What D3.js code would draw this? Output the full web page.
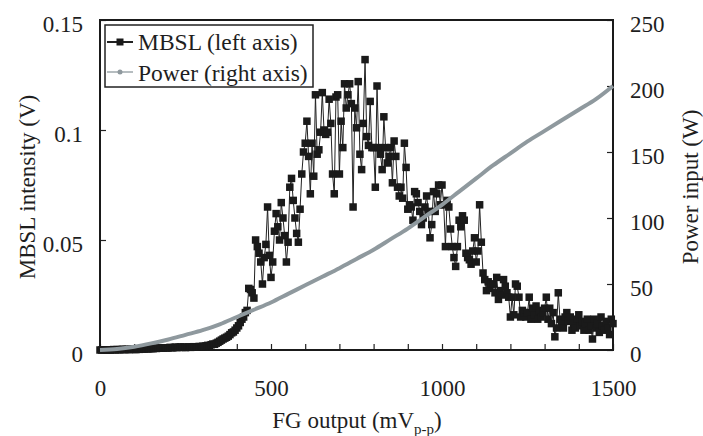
<!DOCTYPE html>
<html>
<head>
<meta charset="utf-8">
<script src="https://cdn.jsdelivr.net/npm/d3@7"></script>
<style>
    body { margin: 0; background: #fff; }
    text { font-family: "Liberation Serif", "Times New Roman", serif; fill: #1e1e1e; }
</style>
</head>
<body>
<svg id="chart" width="703" height="436"></svg>
<script>

// MBSL trace, one reading every 5 mV from 0 to 1500 mV (V)
const mbslStep = 5;
const mbslValues = [
    0.0000, 0.0000, 0.0000, 0.0001, 0.0000, 0.0001, 0.0000, 0.0001, 0.0002, 0.0001,
    0.0002, 0.0001, 0.0002, 0.0003, 0.0002, 0.0002, 0.0003, 0.0002, 0.0003, 0.0003,
    0.0003, 0.0002, 0.0004, 0.0003, 0.0005, 0.0004, 0.0005, 0.0006, 0.0005, 0.0006,
    0.0007, 0.0006, 0.0008, 0.0007, 0.0008, 0.0009, 0.0008, 0.0009, 0.0010, 0.0009,
    0.0010, 0.0012, 0.0010, 0.0011, 0.0013, 0.0011, 0.0012, 0.0014, 0.0012, 0.0013,
    0.0011, 0.0013, 0.0014, 0.0012, 0.0013, 0.0015, 0.0013, 0.0014, 0.0016, 0.0015,
    0.0017, 0.0016, 0.0019, 0.0021, 0.0020, 0.0024, 0.0027, 0.0026, 0.0031, 0.0035,
    0.0040, 0.0045, 0.0050, 0.0054, 0.0058, 0.0063, 0.0070, 0.0078, 0.0082, 0.0090,
    0.0100, 0.0110, 0.0125, 0.0140, 0.0150, 0.0170, 0.0180, 0.0280, 0.0275, 0.0260,
    0.0236, 0.0500, 0.0470, 0.0440, 0.0400, 0.0300, 0.0420, 0.0480, 0.0650, 0.0430,
    0.0330, 0.0400, 0.0540, 0.0620, 0.0560, 0.0500, 0.0670, 0.0600, 0.0520, 0.0400,
    0.0490, 0.0740, 0.0780, 0.0680, 0.0600, 0.0530, 0.0490, 0.0640, 0.0800, 0.0900,
    0.0940, 0.1040, 0.0880, 0.0710, 0.0940, 0.0790, 0.1160, 0.0890, 0.0910, 0.0990,
    0.1170, 0.1000, 0.0980, 0.0990, 0.1140, 0.1030, 0.0800, 0.0710, 0.1150, 0.1160,
    0.0800, 0.1040, 0.0920, 0.1210, 0.1100, 0.1160, 0.1210, 0.1120, 0.0650, 0.1100,
    0.1010, 0.1220, 0.0890, 0.0820, 0.1030, 0.1320, 0.0970, 0.0930, 0.1130, 0.0920,
    0.0920, 0.0740, 0.1200, 0.0920, 0.0890, 0.0820, 0.1060, 0.0920, 0.0850, 0.0880,
    0.0920, 0.0760, 0.0950, 0.0880, 0.0740, 0.0700, 0.0740, 0.0690, 0.0940, 0.0830,
    0.0640, 0.0660, 0.0650, 0.0590, 0.0720, 0.0710, 0.0670, 0.0630, 0.0570, 0.0600,
    0.0650, 0.0700, 0.0630, 0.0510, 0.0570, 0.0720, 0.0630, 0.0710, 0.0750, 0.0660,
    0.0750, 0.0660, 0.0470, 0.0680, 0.0650, 0.0550, 0.0470, 0.0420, 0.0380, 0.0470,
    0.0590, 0.0560, 0.0610, 0.0590, 0.0440, 0.0420, 0.0410, 0.0390, 0.0450, 0.0510,
    0.0400, 0.0450, 0.0660, 0.0490, 0.0350, 0.0320, 0.0270, 0.0310, 0.0280, 0.0300,
    0.0300, 0.0260, 0.0330, 0.0230, 0.0270, 0.0250, 0.0320, 0.0290, 0.0260, 0.0240,
    0.0150, 0.0240, 0.0160, 0.0300, 0.0290, 0.0240, 0.0150, 0.0180, 0.0170, 0.0150,
    0.0170, 0.0240, 0.0140, 0.0190, 0.0160, 0.0200, 0.0140, 0.0180, 0.0150, 0.0170,
    0.0190, 0.0240, 0.0140, 0.0190, 0.0120, 0.0170, 0.0060, 0.0100, 0.0260, 0.0140,
    0.0120, 0.0100, 0.0150, 0.0170, 0.0130, 0.0150, 0.0090, 0.0120, 0.0100, 0.0140,
    0.0160, 0.0110, 0.0130, 0.0090, 0.0120, 0.0140, 0.0090, 0.0110, 0.0050, 0.0140,
    0.0100, 0.0120, 0.0080, 0.0150, 0.0110, 0.0090, 0.0130, 0.0100, 0.0070, 0.0140,
    0.0120
];

// power input curve (W)
const powerX = [0, 50, 100, 150, 200, 250, 300, 350, 400, 450, 500, 550, 600, 650, 700, 750,
    800, 850, 900, 950, 1000, 1050, 1100, 1150, 1200, 1250, 1300, 1350, 1400, 1450, 1500];
const powerW = [0, 0.8, 2.5, 5, 8, 11.5, 15, 19.5, 25, 30.5, 36, 42.5, 49, 55.5, 62, 69,
    76, 84, 92, 101, 110, 120, 130, 140, 149, 158, 166, 174, 182, 190, 200];

// axes
const xTicks = [0, 100, 200, 300, 400, 500, 600, 700, 800, 900, 1000, 1100, 1200, 1300, 1400, 1500];
const xLabels = [0, 500, 1000, 1500];
const leftTicks = [0, 0.05, 0.1, 0.15];
const rightTicks = [0, 50, 100, 150, 200, 250];

const legendItems = ["MBSL (left axis)", "Power (right axis)"];


class DualAxisVis {

    constructor(parentElement){
        this.parentElement = parentElement;

        this.initVis()
    }

    initVis(){
        let vis = this;

        vis.margin = {top: 20, right: 90, bottom: 86, left: 100};
        vis.width = 703 - vis.margin.left - vis.margin.right;
        vis.height = 436 - vis.margin.top - vis.margin.bottom;

        vis.svg = d3.select("#" + vis.parentElement);
        vis.g = vis.svg.append("g")
            .attr("transform", `translate(${vis.margin.left},${vis.margin.top})`);

        vis.x = d3.scaleLinear().domain([0, 1500]).range([0, vis.width]);
        vis.yLeft = d3.scaleLinear().domain([0, 0.15]).range([vis.height, 0]);
        vis.yRight = d3.scaleLinear().domain([0, 250]).range([vis.height, 0]);

        vis.wrangleData();
    }

    wrangleData(){
        let vis = this

        vis.mbsl = mbslValues.map((v, i) => ({x: i * mbslStep, y: v}));
        vis.power = powerX.map((x, i) => ({x: x, y: powerW[i]}));

        vis.updateVis()
    }

    updateVis(){
        let vis = this;

        // axes, ticks pointing inward
        let xAxis = d3.axisBottom(vis.x)
            .tickValues(xTicks)
            .tickSize(-6)
            .tickPadding(30)
            .tickFormat(d => xLabels.includes(d) ? d : "");
        let leftAxis = d3.axisLeft(vis.yLeft)
            .tickValues(leftTicks)
            .tickSize(-6)
            .tickPadding(17)
            .tickFormat(d => String(d));
        let rightAxis = d3.axisRight(vis.yRight)
            .tickValues(rightTicks)
            .tickSize(-6)
            .tickPadding(17)
            .tickFormat(d => String(d));

        let styleAxis = sel => {
            sel.select(".domain").remove();
            sel.selectAll(".tick line").attr("stroke", "#222").attr("stroke-width", 1.2);
            sel.selectAll("text")
                .style("font-family", '"Liberation Serif", serif')
                .style("font-size", "23px")
                .attr("fill", "#1e1e1e");
        };

        vis.g.append("g")
            .attr("transform", `translate(0,${vis.height})`)
            .call(xAxis)
            .call(styleAxis);
        vis.g.append("g")
            .call(leftAxis)
            .call(styleAxis)
            .selectAll("text").attr("dy", "0.5em");
        vis.g.append("g")
            .attr("transform", `translate(${vis.width},0)`)
            .call(rightAxis)
            .call(styleAxis)
            .selectAll("text").attr("dy", "0.5em");

        // plot frame
        vis.g.append("rect")
            .attr("width", vis.width)
            .attr("height", vis.height)
            .attr("fill", "none")
            .attr("stroke", "#1a1a1a")
            .attr("stroke-width", 2);

        // MBSL series
        let mbslLine = d3.line()
            .x(d => vis.x(d.x))
            .y(d => vis.yLeft(d.y));

        vis.g.append("path")
            .datum(vis.mbsl)
            .attr("d", mbslLine)
            .attr("fill", "none")
            .attr("stroke", "#222")
            .attr("stroke-width", 1);

        vis.g.selectAll(".marker")
            .data(vis.mbsl)
            .enter()
            .append("rect")
            .attr("class", "marker")
            .attr("x", d => vis.x(d.x) - 3.75)
            .attr("y", d => vis.yLeft(d.y) - 3.75)
            .attr("width", 7.5)
            .attr("height", 7.5)
            .attr("fill", "#1a1a1a");

        // power series
        let powerLine = d3.line()
            .x(d => vis.x(d.x))
            .y(d => vis.yRight(d.y))
            .curve(d3.curveMonotoneX);

        vis.g.append("path")
            .datum(vis.power)
            .attr("d", powerLine)
            .attr("fill", "none")
            .attr("stroke", "#8f999e")
            .attr("stroke-width", 4);

        // legend
        let legend = vis.g.append("g").attr("transform", "translate(5,5)");
        legend.append("rect")
            .attr("width", 208)
            .attr("height", 62)
            .attr("fill", "#fff")
            .attr("stroke", "#222")
            .attr("stroke-width", 1.5);

        legend.append("line")
            .attr("x1", 2).attr("x2", 28).attr("y1", 17).attr("y2", 17)
            .attr("stroke", "#222").attr("stroke-width", 2);
        legend.append("rect")
            .attr("x", 11.5).attr("y", 13.5).attr("width", 7).attr("height", 7)
            .attr("fill", "#1a1a1a");
        legend.append("line")
            .attr("x1", 2).attr("x2", 28).attr("y1", 47).attr("y2", 47)
            .attr("stroke", "#8f999e").attr("stroke-width", 1.3);
        legend.append("circle")
            .attr("cx", 15).attr("cy", 47).attr("r", 2.5)
            .attr("fill", "#8f999e");

        legend.selectAll(".legend-text")
            .data(legendItems)
            .enter()
            .append("text")
            .attr("class", "legend-text")
            .attr("x", 33)
            .attr("y", (d, i) => 25 + i * 31)
            .style("font-size", "23.5px")
            .text(d => d);

        // axis titles
        let xTitle = vis.svg.append("text")
            .attr("x", 357)
            .attr("y", 428)
            .attr("text-anchor", "middle")
            .style("font-size", "23px");
        xTitle.append("tspan").text("FG output (mV");
        xTitle.append("tspan").attr("dy", 6).style("font-size", "15px").text("p-p");
        xTitle.append("tspan").attr("dy", -6).text(")");

        vis.svg.append("text")
            .attr("transform", "translate(35,187) rotate(-90)")
            .attr("text-anchor", "middle")
            .style("font-size", "23px")
            .text("MBSL intensity (V)");

        vis.svg.append("text")
            .attr("transform", "translate(698,187) rotate(-90)")
            .attr("text-anchor", "middle")
            .style("font-size", "23px")
            .text("Power input (W)");
    }
}

new DualAxisVis("chart");

</script>
</body>
</html>
